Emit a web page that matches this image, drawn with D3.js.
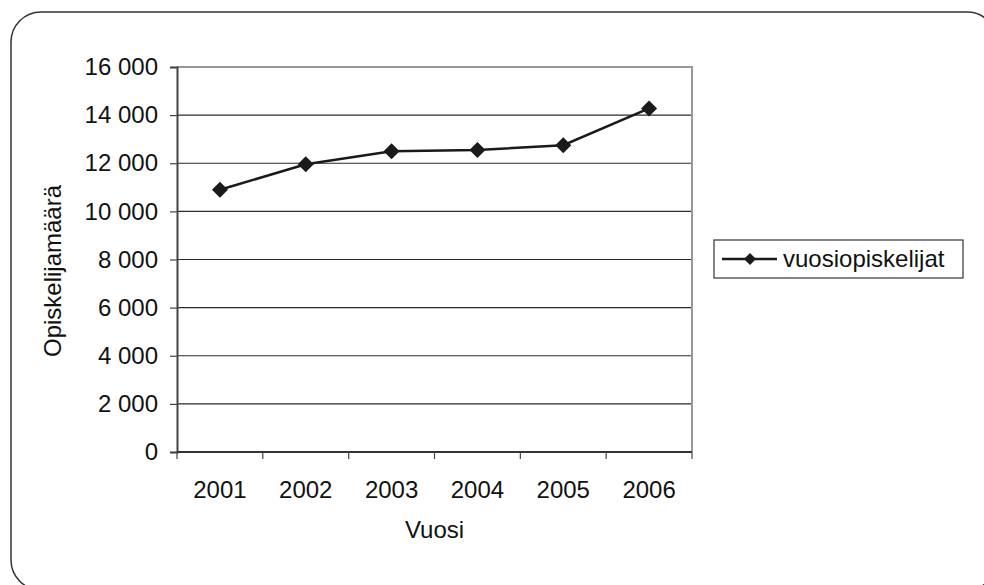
<!DOCTYPE html>
<html>
<head>
<meta charset="utf-8">
<script src="https://cdn.jsdelivr.net/npm/d3@7"></script>
<style>
body { margin: 0; background: #fff; }
text { font-family: "Liberation Sans", Arial, Helvetica, sans-serif; fill: #111; }
</style>
</head>
<body>
<svg id="chart" width="984" height="585"></svg>
<script>
// data
let years = ["2001", "2002", "2003", "2004", "2005", "2006"];
let students = [10900, 11960, 12500, 12550, 12750, 14280];
let yTicks = [0, 2000, 4000, 6000, 8000, 10000, 12000, 14000, 16000];
let seriesName = "vuosiopiskelijat";
let yTitle = "Opiskelijamäärä";
let xTitle = "Vuosi";

let plotLeft = 177;
let plotRight = 692;
let plotTop = 67;
let plotBottom = 452;
let fontSize = "24px";

let svg = d3.select("#chart");

//outer rounded frame
svg.append("rect")
.attr("x", 11)
.attr("y", 12)
.attr("width", 986)
.attr("height", 578)
.attr("rx", 30)
.style("fill", "none")
.style("stroke", "#333")
.style("stroke-width", 1.5);

let xScale = d3.scaleBand()
.domain(years)
.range([plotLeft, plotRight]);

let yScale = d3.scaleLinear()
.domain([0, 16000])
.range([plotBottom, plotTop]);

//gridlines
svg.append("g")
.selectAll("line")
.data(yTicks.filter(d => d > 0 && d < 16000))
.join("line")
.attr("x1", plotLeft)
.attr("x2", plotRight)
.attr("y1", d => yScale(d))
.attr("y2", d => yScale(d))
.style("stroke", "#2a2a2a")
.style("stroke-width", 1.2);

//gray border top and right
svg.append("path")
.attr("d", `M${plotLeft},${plotTop}H${plotRight}V${plotBottom}`)
.style("fill", "none")
.style("stroke", "#999")
.style("stroke-width", 2);

//y axis
let yAxis = svg.append("g")
.attr("transform", `translate(${plotLeft}, 0)`)
.call(d3.axisLeft(yScale)
  .tickValues(yTicks)
  .tickSize(7)
  .tickPadding(12)
  .tickFormat(d => d3.format(",")(d).replace(",", " ")));
yAxis.select(".domain").style("stroke", "#444").style("stroke-width", 2);
yAxis.selectAll(".tick line").style("stroke", "#444").style("stroke-width", 1.2);
yAxis.selectAll("text").style("font-size", fontSize).style("fill", "#111");

//x axis labels
let xAxis = svg.append("g")
.attr("transform", `translate(0, ${plotBottom})`)
.call(d3.axisBottom(xScale).tickSize(0).tickPadding(29));
xAxis.select(".domain").remove();
xAxis.selectAll("text").style("font-size", fontSize).style("fill", "#111");

//x axis line and ticks between years
svg.append("line")
.attr("x1", plotLeft)
.attr("x2", plotRight)
.attr("y1", plotBottom)
.attr("y2", plotBottom)
.style("stroke", "#333")
.style("stroke-width", 2);

svg.append("g")
.selectAll("line")
.data(years.map(d => xScale(d)).concat([plotRight]))
.join("line")
.attr("x1", d => d)
.attr("x2", d => d)
.attr("y1", plotBottom)
.attr("y2", plotBottom + 7)
.style("stroke", "#444")
.style("stroke-width", 1.2);

//the line
let line = d3.line()
.x((d, i) => xScale(years[i]) + xScale.bandwidth() / 2)
.y(d => yScale(d));

svg.append("path")
.datum(students)
.attr("d", line)
.style("fill", "none")
.style("stroke", "#1a1a1a")
.style("stroke-width", 2.5);

//diamond markers
let diamond = d3.symbol().type(d3.symbolSquare).size(128);
svg.append("g")
.selectAll("path")
.data(students)
.join("path")
.attr("d", diamond)
.attr("transform", (d, i) => `translate(${xScale(years[i]) + xScale.bandwidth() / 2}, ${yScale(d)}) rotate(45)`)
.style("fill", "#1a1a1a");

//axis titles
svg.append("text")
.attr("transform", "translate(61, 271) rotate(-90)")
.style("text-anchor", "middle")
.style("font-size", fontSize)
.text(yTitle);

svg.append("text")
.attr("x", (plotLeft + plotRight) / 2)
.attr("y", 538)
.style("text-anchor", "middle")
.style("font-size", fontSize)
.text(xTitle);

//legend
let legend = svg.append("g");
legend.append("rect")
.attr("x", 714)
.attr("y", 240)
.attr("width", 249)
.attr("height", 38)
.style("fill", "#fff")
.style("stroke", "#333")
.style("stroke-width", 1.2);

legend.append("line")
.attr("x1", 722)
.attr("x2", 777)
.attr("y1", 259)
.attr("y2", 259)
.style("stroke", "#1a1a1a")
.style("stroke-width", 2.5);

legend.append("path")
.attr("d", d3.symbol().type(d3.symbolSquare).size(72))
.attr("transform", "translate(750, 259) rotate(45)")
.style("fill", "#1a1a1a");

legend.append("text")
.attr("x", 783)
.attr("y", 267)
.style("font-size", fontSize)
.text(seriesName);
</script>
</body>
</html>
